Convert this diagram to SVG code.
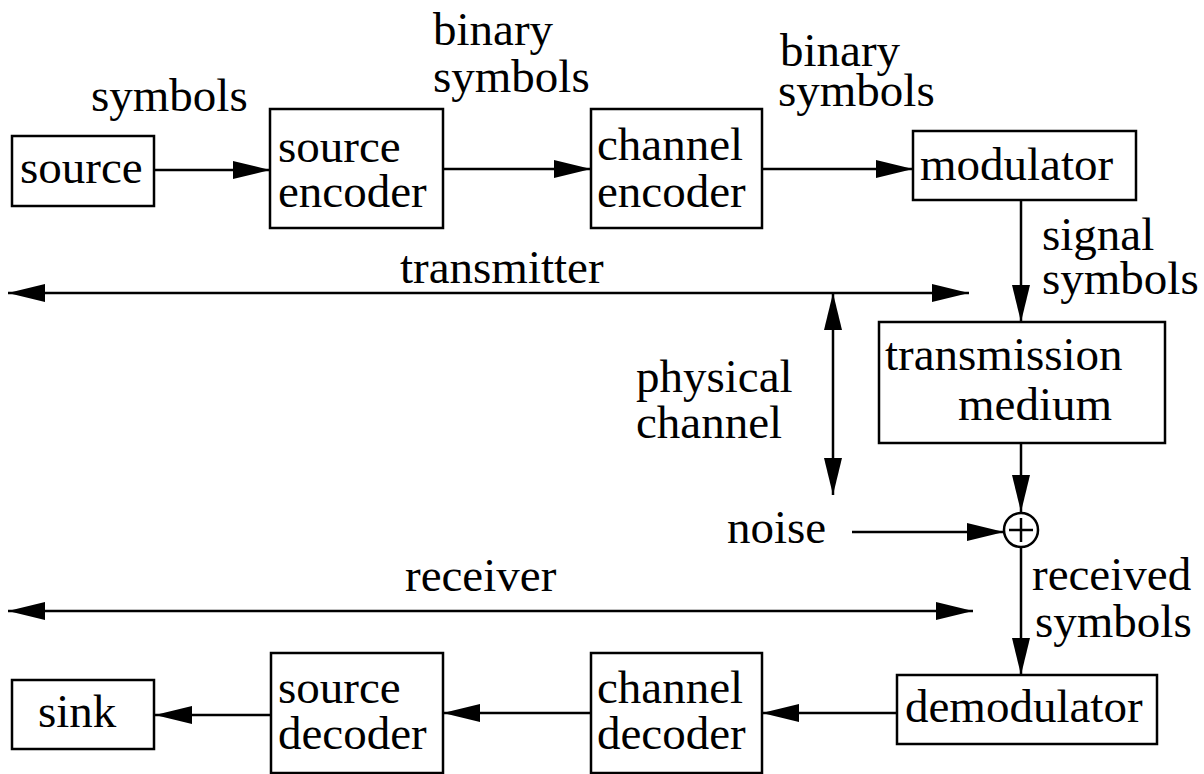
<svg xmlns="http://www.w3.org/2000/svg" width="1204" height="774" viewBox="0 0 1204 774">
<style>
.box{fill:#fff;stroke:#000;stroke-width:2.5}
.ln{fill:none;stroke:#000;stroke-width:2.5}
text{font-family:"Liberation Serif","Times New Roman",serif;font-size:47px;fill:#000}
</style>
<defs>
<marker id="ah" markerUnits="userSpaceOnUse" markerWidth="37" markerHeight="18" refX="37" refY="9" orient="auto-start-reverse">
<path d="M0,0 L37,9 L0,18 z" fill="#000"/>
</marker>
</defs>
<rect width="1204" height="774" fill="#fff"/>
<g id="connectors">
<line class="ln" x1="154" y1="170" x2="270" y2="170" marker-end="url(#ah)"/>
<line class="ln" x1="443" y1="169" x2="591" y2="169" marker-end="url(#ah)"/>
<line class="ln" x1="762" y1="169" x2="913" y2="169" marker-end="url(#ah)"/>
<line class="ln" x1="1021" y1="200" x2="1021" y2="322" marker-end="url(#ah)"/>
<line class="ln" x1="8" y1="293" x2="969" y2="293" marker-start="url(#ah)" marker-end="url(#ah)"/>
<line class="ln" x1="833" y1="293" x2="833" y2="495" marker-start="url(#ah)" marker-end="url(#ah)"/>
<line class="ln" x1="1021" y1="443" x2="1021" y2="512" marker-end="url(#ah)"/>
<line class="ln" x1="852" y1="532" x2="1004" y2="532" marker-end="url(#ah)"/>
<line class="ln" x1="1021" y1="547" x2="1021" y2="675" marker-end="url(#ah)"/>
<line class="ln" x1="8" y1="611" x2="973" y2="611" marker-start="url(#ah)" marker-end="url(#ah)"/>
<line class="ln" x1="897" y1="713" x2="762" y2="713" marker-end="url(#ah)"/>
<line class="ln" x1="591" y1="713" x2="443" y2="713" marker-end="url(#ah)"/>
<line class="ln" x1="271" y1="715" x2="155" y2="715" marker-end="url(#ah)"/>
</g>
<g id="labels">
<text x="91" y="111">symbols</text>
<text x="433" y="45">binary</text>
<text x="433" y="92">symbols</text>
<text x="780" y="66">binary</text>
<text x="778" y="106">symbols</text>
<text x="1042" y="250">signal</text>
<text x="1042" y="294">symbols</text>
<text x="400" y="283">transmitter</text>
<text x="636" y="392">physical</text>
<text x="636" y="438">channel</text>
<text x="727" y="543">noise</text>
<text x="405" y="591">receiver</text>
<text x="1032" y="590">received</text>
<text x="1035" y="637">symbols</text>
</g>
<g id="source"><rect class="box" x="12" y="136" width="142" height="70"/><text x="20" y="183">source</text></g>
<g id="source-encoder"><rect class="box" x="270" y="109" width="173" height="119"/><text x="278" y="162">source</text><text x="278" y="207">encoder</text></g>
<g id="channel-encoder"><rect class="box" x="591" y="109" width="171" height="119"/><text x="597" y="160">channel</text><text x="597" y="207">encoder</text></g>
<g id="modulator"><rect class="box" x="913" y="131" width="223" height="69"/><text x="920" y="180">modulator</text></g>
<g id="transmission-medium"><rect class="box" x="879" y="322" width="286" height="121"/><text x="885" y="370">transmission</text><text x="958" y="420">medium</text></g>
<g id="adder"><circle class="box" cx="1021" cy="530" r="17"/><line class="ln" x1="1009" y1="530" x2="1033" y2="530"/><line class="ln" x1="1021" y1="518" x2="1021" y2="542"/></g>
<g id="demodulator"><rect class="box" x="897" y="675" width="260" height="69"/><text x="905" y="722">demodulator</text></g>
<g id="channel-decoder"><rect class="box" x="591" y="653" width="171" height="120"/><text x="597" y="703">channel</text><text x="597" y="749">decoder</text></g>
<g id="source-decoder"><rect class="box" x="271" y="653" width="172" height="120"/><text x="278" y="703">source</text><text x="278" y="749">decoder</text></g>
<g id="sink"><rect class="box" x="12" y="680" width="142" height="69"/><text x="38" y="727">sink</text></g>
</svg>
